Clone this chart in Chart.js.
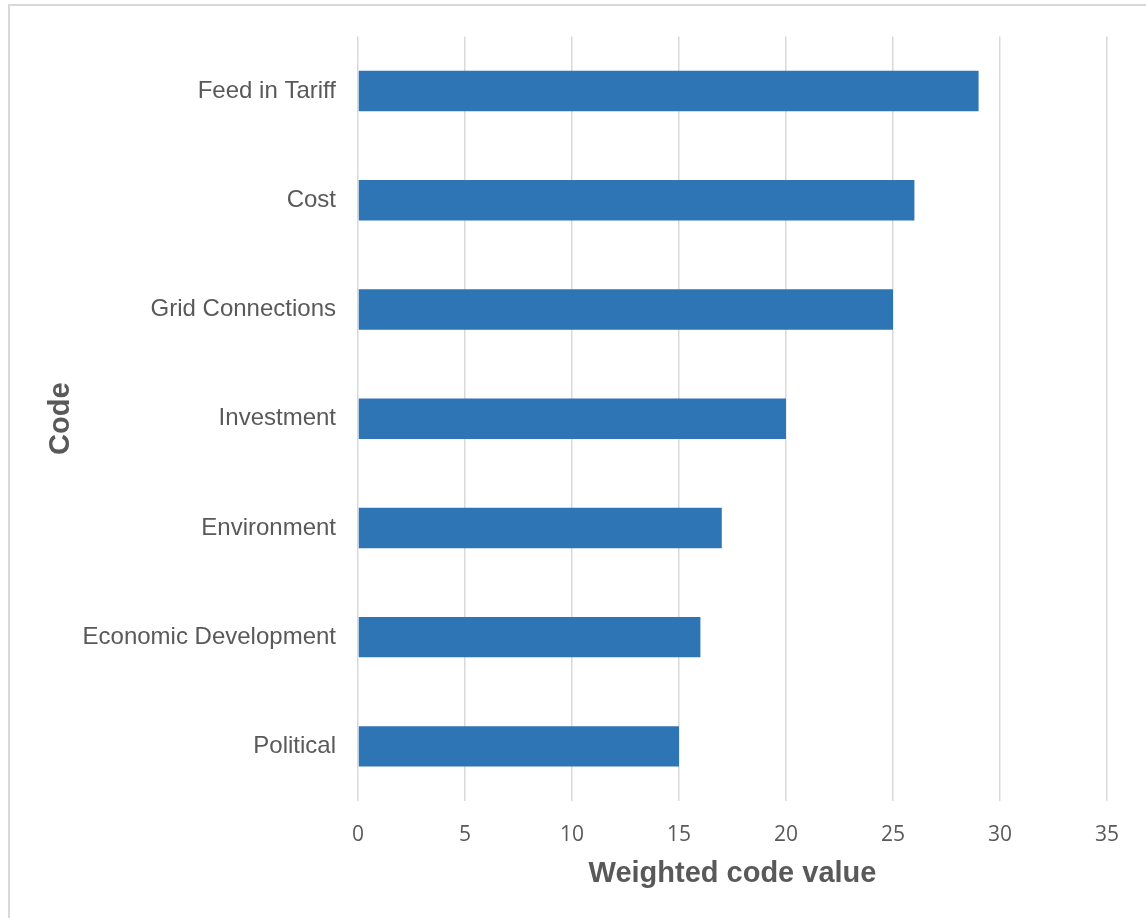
<!DOCTYPE html>
<html lang="en">
<head>
  <meta charset="UTF-8">
  <title>Weighted code value</title>
  <script src="https://cdn.jsdelivr.net/npm/chart.js"></script>
  <style>
    html, body { margin: 0; padding: 0; background: #fff; overflow: hidden; }
    .frame { position: absolute; left: 8px; top: 4px; width: 2000px; height: 2000px;
             border-top: 2px solid #d9d9d9; border-left: 2px solid #d9d9d9; }
    #chart { position: absolute; left: 0; top: 0; }
  </style>
</head>
<body>
  <div class="frame"></div>
  <canvas id="chart" width="1146" height="918"></canvas>

  <script>
    const codes = ["Feed in Tariff", "Cost", "Grid Connections", "Investment", "Environment", "Economic Development", "Political"];
    const values = [29, 26, 25, 20, 17, 16, 15];
    const xTicks = [0, 5, 10, 15, 20, 25, 30, 35];

    const textColor = '#595959';

    new Chart(document.getElementById('chart'), {
      type: 'bar',
      data: {
        labels: codes,
        datasets: [{
          data: values,
          backgroundColor: '#2E75B6',
          barPercentage: 0.37,
          categoryPercentage: 1
        }]
      },
      options: {
        indexAxis: 'y',
        responsive: false,
        animation: false,
        layout: { padding: { left: 40, top: 32, right: 39, bottom: 23 } },
        plugins: { legend: { display: false }, tooltip: { enabled: false } },
        scales: {
          x: {
            min: xTicks[0],
            max: xTicks[xTicks.length - 1],
            afterBuildTicks: axis => { axis.ticks = xTicks.map(v => ({ value: v })); },
            afterFit: axis => { axis.height = 94; },
            grid: { color: '#d9d9d9', lineWidth: 1.5, drawTicks: false },
            border: { display: false },
            ticks: { color: textColor, padding: 21, font: { family: 'Open Sans', size: 21 } },
            title: {
              display: true,
              text: 'Weighted code value',
              color: textColor,
              padding: { top: 4, bottom: 4 },
              font: { family: 'Arial, Liberation Sans', size: 29, weight: 'bold' }
            }
          },
          y: {
            afterFit: axis => { axis.width = 318; },
            grid: { display: false, drawTicks: false },
            border: { display: false },
            ticks: { color: textColor, padding: 22, font: { family: 'Arial, Liberation Sans', size: 24 } },
            title: {
              display: true,
              text: 'Code',
              color: textColor,
              padding: { top: 4, bottom: 4 },
              font: { family: 'Arial, Liberation Sans', size: 29, weight: 'bold' }
            }
          }
        }
      }
    });
  </script>
</body>
</html>
